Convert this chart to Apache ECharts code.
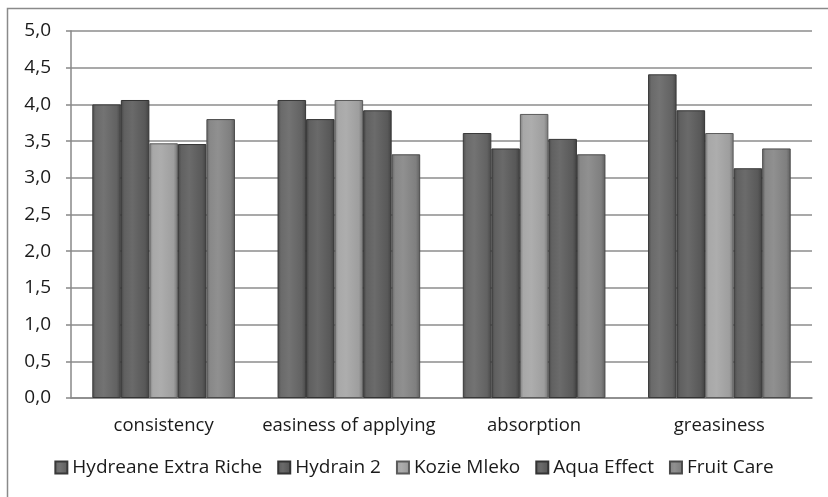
<!DOCTYPE html>
<html>
<head>
<meta charset="utf-8">
<script src="https://cdn.jsdelivr.net/npm/echarts@6/dist/echarts.min.js"></script>
<style>
  html, body { margin: 0; padding: 0; background: #fff; }
  #chart { width: 828px; height: 497px; }
</style>
</head>
<body>
<div id="chart"></div>
<script>
// Sensory ratings per product
const categories = ['consistency', 'easiness of applying', 'absorption', 'greasiness'];
const products = ['Hydreane Extra Riche', 'Hydrain 2', 'Kozie Mleko', 'Aqua Effect', 'Fruit Care'];
const hydreane = [4.00, 4.06, 3.61, 4.41];
const hydrain = [4.06, 3.80, 3.40, 3.92];
const kozie = [3.47, 4.06, 3.87, 3.61];
const aqua = [3.46, 3.92, 3.53, 3.13];
const fruit = [3.80, 3.32, 3.32, 3.40];
const yTicks = [0, 0.5, 1, 1.5, 2, 2.5, 3, 3.5, 4, 4.5, 5];

const seriesValues = [hydreane, hydrain, kozie, aqua, fruit];
const baseColors = ['#676767', '#5d5d5d', '#a6a6a6', '#5e5e5e', '#868686'];

function shade(hex, f) {
  const n = parseInt(hex.slice(1), 16);
  const ch = [(n >> 16) & 255, (n >> 8) & 255, n & 255].map(c => {
    const v = f >= 0 ? c + (255 - c) * f : c * (1 + f);
    return Math.max(0, Math.min(255, Math.round(v)));
  });
  return 'rgb(' + ch.join(',') + ')';
}

function barFill(hex) {
  return new echarts.graphic.LinearGradient(0, 0, 1, 0, [
    { offset: 0, color: shade(hex, -0.25) },
    { offset: 0.12, color: shade(hex, 0.02) },
    { offset: 0.4, color: shade(hex, 0.08) },
    { offset: 0.85, color: shade(hex, -0.05) },
    { offset: 1, color: shade(hex, -0.3) }
  ]);
}

const chart = echarts.init(document.getElementById('chart'), null, { renderer: 'canvas' });
const font = '"Open Sans", sans-serif';

chart.setOption({
  backgroundColor: '#ffffff',
  animation: false,
  graphic: [{
    type: 'rect',
    shape: { x: 7.5, y: 8.5, width: 840, height: 500 },
    style: { fill: 'none', stroke: '#8a8a8a', lineWidth: 1.5 },
    silent: true
  }],
  grid: { left: 71, right: 16, top: 31, bottom: 99 },
  legend: {
    bottom: 15,
    left: 'center',
    itemWidth: 12,
    itemHeight: 12,
    itemGap: 15,
    icon: 'rect',
    textStyle: { fontFamily: font, fontSize: 19, color: '#1a1a1a' },
    data: products
  },
  xAxis: {
    type: 'category',
    data: categories,
    boundaryGap: true,
    axisLine: { lineStyle: { color: '#888', width: 1.5 } },
    axisTick: { length: 7, lineStyle: { color: '#888', width: 1.5 } },
    axisLabel: { interval: 0, fontFamily: font, fontSize: 18.5, color: '#1a1a1a', margin: 18 }
  },
  yAxis: {
    type: 'value',
    min: yTicks[0],
    max: yTicks[yTicks.length - 1],
    interval: yTicks[1] - yTicks[0],
    axisLine: { show: true, lineStyle: { color: '#888', width: 1.5 } },
    axisTick: { show: true, length: 5, lineStyle: { color: '#888', width: 1.5 } },
    axisLabel: {
      fontFamily: font, fontSize: 19, color: '#1a1a1a', margin: 20,
      formatter: v => v.toFixed(1).replace('.', ',')
    },
    splitLine: { lineStyle: { color: '#8c8c8c', width: 1.5 } }
  },
  series: products.map((name, i) => ({
    name: name,
    type: 'bar',
    data: seriesValues[i],
    barGap: '0%',
    barCategoryGap: '23%',
    itemStyle: {
      color: barFill(baseColors[i]),
      borderColor: shade(baseColors[i], -0.45),
      borderWidth: 1
    }
  }))
});
</script>
</body>
</html>
